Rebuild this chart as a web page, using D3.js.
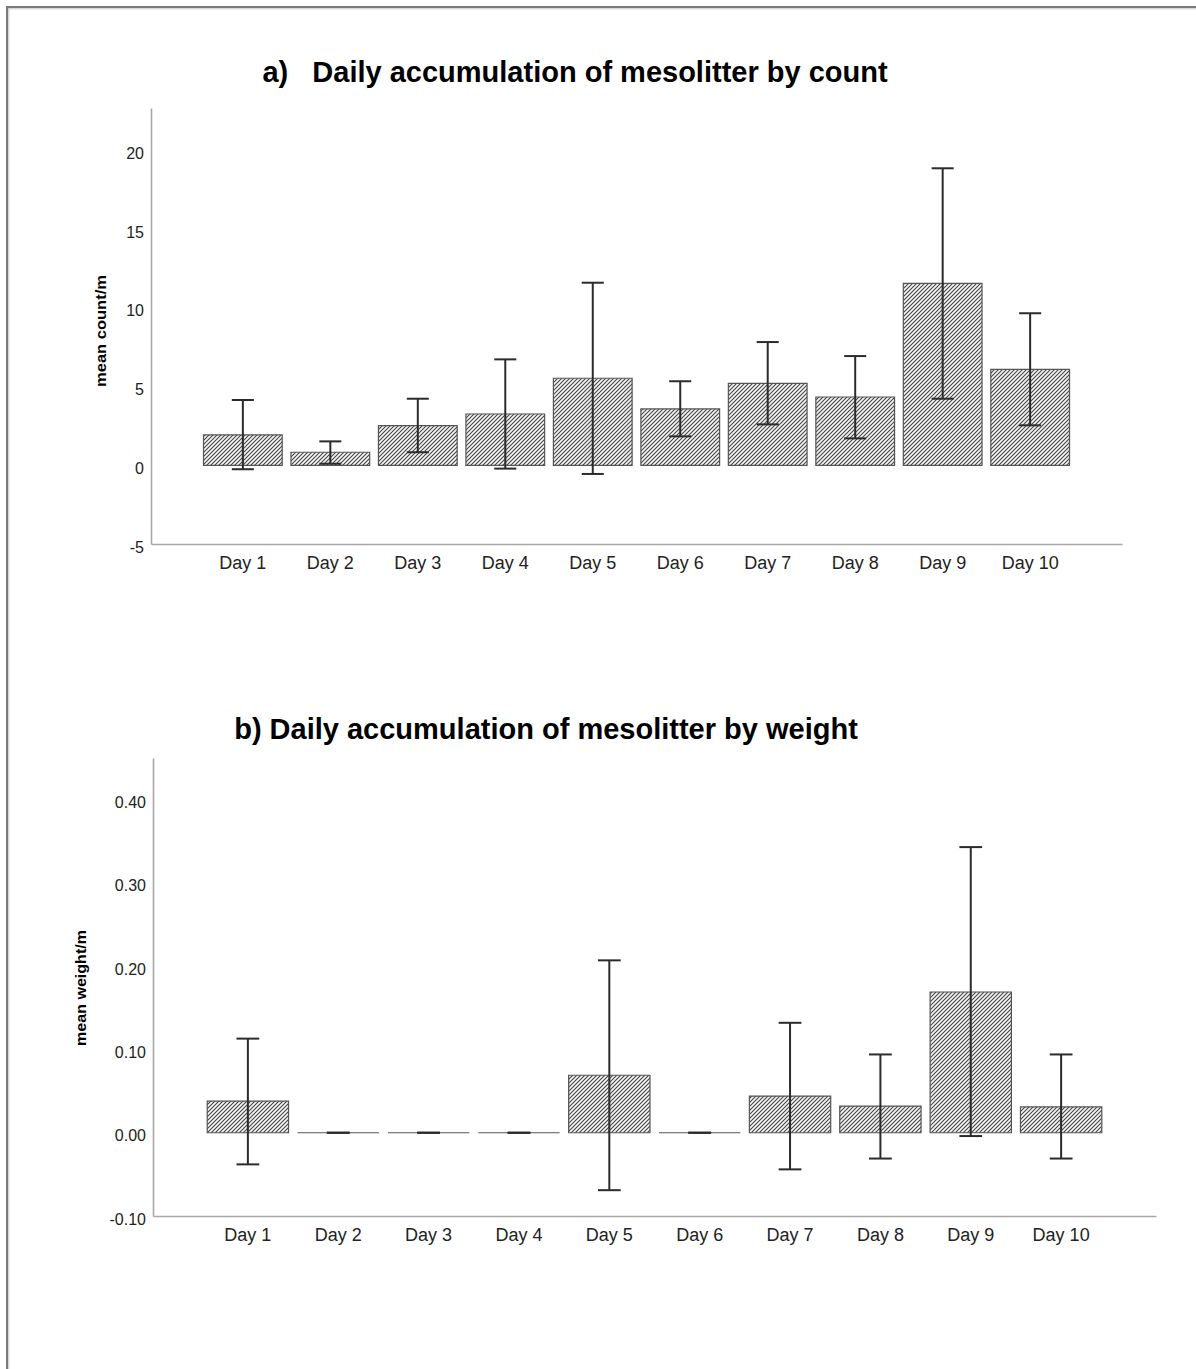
<!DOCTYPE html>
<html>
<head>
<meta charset="utf-8">
<script src="https://cdn.jsdelivr.net/npm/d3@7"></script>
<style>
  html, body { margin: 0; padding: 0; background: #fff; }
  svg { display: block; }
  text { font-family: "Liberation Sans", Arial, sans-serif; }
</style>
</head>
<body>
<script>
// ---- Data ----
const days = ["Day 1","Day 2","Day 3","Day 4","Day 5","Day 6","Day 7","Day 8","Day 9","Day 10"];

// a) count per m
const countMean  = [1.93, 0.83, 2.52, 3.26, 5.53, 3.58, 5.21, 4.34, 11.56, 6.10];
const countUpper = [4.15, 1.52, 4.23, 6.73, 11.60, 5.34, 7.83, 6.94, 18.87, 9.66];
const countLower = [-0.25, 0.10, 0.83, -0.21, -0.55, 1.84, 2.60, 1.71, 4.23, 2.54];
const countTicks = [-5, 0, 5, 10, 15, 20];

// b) weight per m
const weightMean  = [0.038, 0, 0, 0, 0.069, 0, 0.044, 0.032, 0.169, 0.031];
const weightUpper = [0.113, 0, 0, 0, 0.207, 0, 0.132, 0.094, 0.343, 0.094];
const weightLower = [-0.038, 0, 0, 0, -0.069, 0, -0.044, -0.031, -0.004, -0.031];
const weightTicks = [-0.10, 0.00, 0.10, 0.20, 0.30, 0.40];

const titleA = "a)   Daily accumulation of mesolitter by count";
const titleB = "b) Daily accumulation of mesolitter by weight";
const yLabelA = "mean count/m";
const yLabelB = "mean weight/m";

// ---- Drawing ----
const W = 1196, H = 1369;
const svg = d3.select("body").append("svg").attr("width", W).attr("height", H);
const locale = d3.formatLocale({decimal: ".", thousands: ",", grouping: [3], currency: ["", ""], minus: "-"});

const defs = svg.append("defs");
const pat = defs.append("pattern")
  .attr("id", "hatch").attr("patternUnits", "userSpaceOnUse")
  .attr("width", 4).attr("height", 4);
pat.append("rect").attr("width", 4).attr("height", 4).attr("fill", "#f6f6f6");
pat.append("path")
  .attr("d", "M-1,1 l2,-2 M0,4 l4,-4 M3,5 l2,-2")
  .attr("stroke", "#444").attr("stroke-width", 1.1);

// frame
svg.append("line").attr("x1", 6).attr("x2", W).attr("y1", 7).attr("y2", 7)
  .attr("stroke", "#7a7a7a").attr("stroke-width", 2);
svg.append("line").attr("x1", 6).attr("x2", W).attr("y1", 8.8).attr("y2", 8.8)
  .attr("stroke", "#c8c8c8").attr("stroke-width", 1);
svg.append("line").attr("x1", 7).attr("x2", 7).attr("y1", 6).attr("y2", H)
  .attr("stroke", "#7a7a7a").attr("stroke-width", 2);
svg.append("line").attr("x1", 8.8).attr("x2", 8.8).attr("y1", 8).attr("y2", H)
  .attr("stroke", "#c8c8c8").attr("stroke-width", 1);

function drawChart(cfg) {
  const g = svg.append("g");
  const x = d3.scaleBand().domain(days).range([cfg.x0, cfg.x1])
    .paddingInner(0.1).paddingOuter(0.6);
  const y = d3.scaleLinear().domain(cfg.yDomain).range([cfg.y1, cfg.y0]);

  // title
  g.append("text").attr("x", cfg.titleX).attr("y", cfg.titleY)
    .attr("text-anchor", "middle").attr("font-weight", "bold")
    .attr("font-size", 29).attr("fill", "#000")
    .style("white-space", "pre").attr("xml:space", "preserve")
    .text(cfg.title);

  // y axis
  const yAxis = d3.axisLeft(y).tickValues(cfg.ticks).tickSize(0).tickPadding(7)
    .tickFormat(cfg.fmt);
  const ya = g.append("g").attr("transform", `translate(${cfg.x0},0)`).call(yAxis);
  ya.select(".domain").attr("stroke", "#a8a8a8").attr("stroke-width", 1.6);
  ya.selectAll("text").attr("font-size", 16).attr("fill", "#222")
    .attr("font-family", "'Liberation Sans', Arial, sans-serif").attr("dy", "0.5em");

  // x axis
  const xAxis = d3.axisBottom(x).tickSize(0).tickPadding(12);
  const xa = g.append("g").attr("transform", `translate(0,${cfg.y1})`).call(xAxis);
  xa.select(".domain").attr("stroke", "#a8a8a8").attr("stroke-width", 1.6);
  xa.selectAll("text").attr("font-size", 18).attr("fill", "#222")
    .attr("font-family", "'Liberation Sans', Arial, sans-serif");

  // y label
  g.append("text")
    .attr("transform", `translate(${cfg.labX},${cfg.labY}) rotate(-90)`)
    .attr("text-anchor", "middle").attr("font-weight", "bold")
    .attr("font-size", 15).attr("fill", "#000")
    .attr("textLength", cfg.labLen).attr("lengthAdjust", "spacingAndGlyphs")
    .text(cfg.yLabel);

  // bars
  const bw = x.bandwidth();
  g.append("g").selectAll("path").data(days).join("path")
    .attr("d", (d, i) => {
      const x0 = x(d), x1 = x(d) + bw, yt = y(cfg.mean[i]), yb = y(0);
      return `M${x0},${yb}H${x1}V${yt}H${x0}Z`;
    })
    .attr("fill", "url(#hatch)").attr("stroke", "#555").attr("stroke-width", 1.2);

  // error bars
  const cap = bw * 0.28;
  const eb = g.append("g").attr("stroke", "#2b2b2b").attr("stroke-width", 2);
  days.forEach((d, i) => {
    const cx = x(d) + bw / 2;
    eb.append("line").attr("x1", cx).attr("x2", cx)
      .attr("y1", y(cfg.upper[i])).attr("y2", y(cfg.lower[i]));
    eb.append("line").attr("x1", cx - cap / 2).attr("x2", cx + cap / 2)
      .attr("y1", y(cfg.upper[i])).attr("y2", y(cfg.upper[i]));
    eb.append("line").attr("x1", cx - cap / 2).attr("x2", cx + cap / 2)
      .attr("y1", y(cfg.lower[i])).attr("y2", y(cfg.lower[i]));
  });
}

drawChart({
  x0: 151, x1: 1122, y0: 108, y1: 544, yDomain: [-5, 22.7],
  ticks: countTicks, fmt: locale.format("d"),
  mean: countMean, upper: countUpper, lower: countLower,
  title: titleA, titleX: 575, titleY: 82,
  yLabel: yLabelA, labX: 106, labY: 331, labLen: 112
});

drawChart({
  x0: 153, x1: 1156, y0: 758, y1: 1216, yDomain: [-0.1, 0.45],
  ticks: weightTicks, fmt: locale.format(".2f"),
  mean: weightMean, upper: weightUpper, lower: weightLower,
  title: titleB, titleX: 546, titleY: 739,
  yLabel: yLabelB, labX: 86, labY: 988, labLen: 116
});
</script>
</body>
</html>
